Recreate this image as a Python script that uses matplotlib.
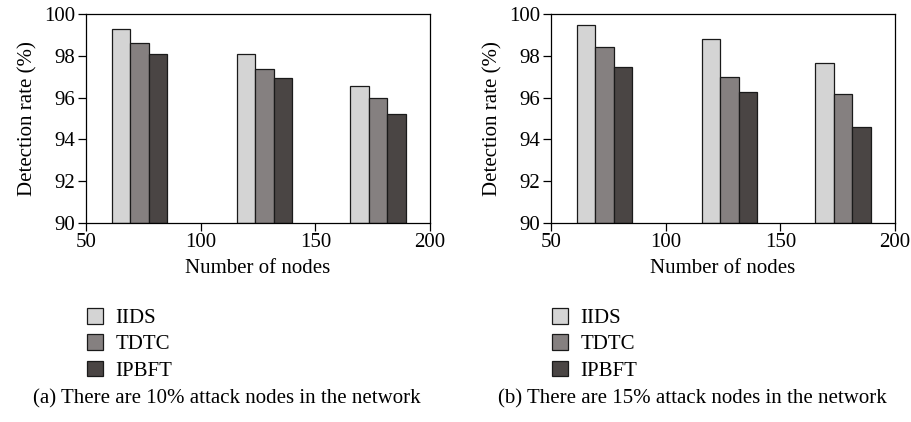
import matplotlib.pyplot as plt
import numpy as np
from matplotlib.patches import Patch

plt.rcParams['font.family'] = ['Liberation Serif', 'DejaVu Serif']

# bar positions (left edge of the IIDS bar in each group)
group_x = [61.2, 115.7, 165.1]
methods = ['IIDS', 'TDTC', 'IPBFT']
colors = ['#d4d4d4', '#858080', '#4a4544']

# (a) 10% attack nodes
rate_a_iids = [99.3, 98.1, 96.55]
rate_a_tdtc = [98.6, 97.37, 96.0]
rate_a_ipbft = [98.1, 96.92, 95.2]

# (b) 15% attack nodes
rate_b_iids = [99.47, 98.82, 97.65]
rate_b_tdtc = [98.4, 97.0, 96.15]
rate_b_ipbft = [97.48, 96.28, 94.58]

captions = ['(a) There are 10% attack nodes in the network',
            '(b) There are 15% attack nodes in the network']

fig = plt.figure(figsize=(9.12, 4.22), dpi=100)
ax1 = fig.add_axes([86/912, 1-223/422, 344/912, 209/422])
ax2 = fig.add_axes([551/912, 1-223/422, 344/912, 209/422])

width = 8.1
fs = 15
x = np.array(group_x)
for ax, series, cap, capx, legx in [
        (ax1, [rate_a_iids, rate_a_tdtc, rate_a_ipbft], captions[0], 227, 79),
        (ax2, [rate_b_iids, rate_b_tdtc, rate_b_ipbft], captions[1], 692, 544)]:
    for i, vals in enumerate(series):
        ax.bar(x + i*width, np.array(vals) - 90, width, bottom=90, align='edge',
               color=colors[i], edgecolor='#1a1a1a', linewidth=0.9)
    ax.set_xlim(50, 200)
    ax.set_ylim(90, 100)
    ax.set_xticks([50, 100, 150, 200])
    ax.set_yticks(np.arange(90, 101, 2))
    ax.tick_params(direction='out', length=5.5, width=0.9, labelsize=fs, pad=2)
    for s in ax.spines.values():
        s.set_linewidth(0.9)
    ax.set_xlabel('Number of nodes', fontsize=fs, labelpad=5)
    ax.set_ylabel('Detection rate (%)', fontsize=fs, labelpad=5)

    handles = [Patch(facecolor=c, edgecolor='#1a1a1a', linewidth=0.9) for c in colors]
    fig.legend(handles, methods, loc='upper left',
               bbox_to_anchor=(legx/912, 1-300/422), frameon=False,
               fontsize=fs, handlelength=0.75, handleheight=0.75,
               handletextpad=0.6, labelspacing=0.3, borderaxespad=0)
    fig.text(capx/912, 1-399/422, cap, ha='center', va='center', fontsize=fs)

plt.savefig('out.png', dpi=100)
